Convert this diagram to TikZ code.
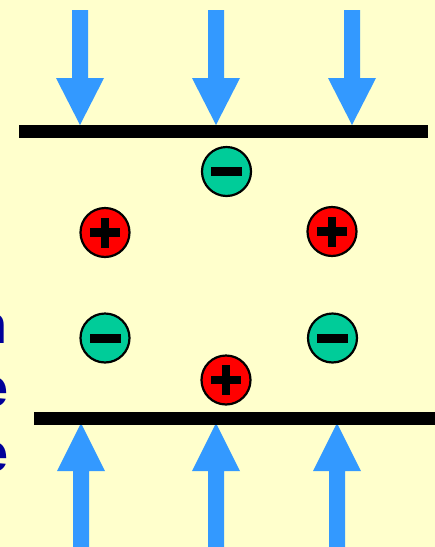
\documentclass[tikz,border=0pt]{standalone}
\usepackage{fontspec}
\setmainfont{Liberation Sans}
\definecolor{bg}{HTML}{FFFFCC}
\definecolor{arrowblue}{HTML}{3399FF}
\definecolor{iongreen}{HTML}{00CC99}
\definecolor{ionred}{HTML}{FF0000}
\definecolor{textnavy}{HTML}{000099}
\begin{document}
\begin{tikzpicture}[x=1pt,y=-1pt,
  bigarrow/.style={fill=arrowblue,draw=none},
  plate/.style={fill=black,draw=none},
  ion/.style={circle,draw=black,line width=2.2pt,minimum size=49pt,inner sep=0pt},
  cation/.style={ion,fill=ionred},
  anion/.style={ion,fill=iongreen},
  sign/.style={fill=black,draw=none},
  frag/.style={text=textnavy,font=\fontsize{54}{54}\selectfont\bfseries,inner sep=0pt,anchor=base east}]
\useasboundingbox (0,0) rectangle (435,547);
\clip (0,0) rectangle (435,547);
\fill[bg] (0,0) rectangle (435,547);
% text fragments at left edge
\node[frag] (t1) at (8,343) {n};
\node[frag] (t2) at (9,406) {e};
\node[frag] (t3) at (9,471) {e};
% top arrows
\foreach \cx/\nm in {80/ta,216/tb,352/tc}{
  \fill[bigarrow] (\cx-8,10) -- (\cx+8,10) -- (\cx+8,78) -- (\cx+24,78) -- (\cx,125) -- (\cx-24,78) -- (\cx-8,78) -- cycle;
}
% bottom arrows
\foreach \cx in {81,216,337}{
  \fill[bigarrow] (\cx-8,550) -- (\cx+8,550) -- (\cx+8,471) -- (\cx+24,471) -- (\cx,423) -- (\cx-24,471) -- (\cx-8,471) -- cycle;
}
% plates
\fill[plate] (19,125) rectangle (428,138);
\fill[plate] (34,412) rectangle (436,425);
% ions
\node[anion] (m1) at (226.5,171.5) {};
\node[cation] (p1) at (105,232.5) {};
\node[cation] (p2) at (332,231.5) {};
\node[anion] (m2) at (105,338) {};
\node[anion] (m3) at (332.5,338) {};
\node[cation] (p3) at (226,380) {};
% signs
\foreach \n in {m1,m2,m3}{
  \fill[sign] ([xshift=-15.5pt,yshift=-4.5pt]\n.center) rectangle ([xshift=15.5pt,yshift=4.5pt]\n.center);
}
\foreach \n in {p1,p2,p3}{
  \fill[sign] ([xshift=-15pt,yshift=-4.2pt]\n.center) rectangle ([xshift=15pt,yshift=4.2pt]\n.center);
  \fill[sign] ([xshift=-4.2pt,yshift=-15pt]\n.center) rectangle ([xshift=4.2pt,yshift=15pt]\n.center);
}
\end{tikzpicture}
\end{document}
